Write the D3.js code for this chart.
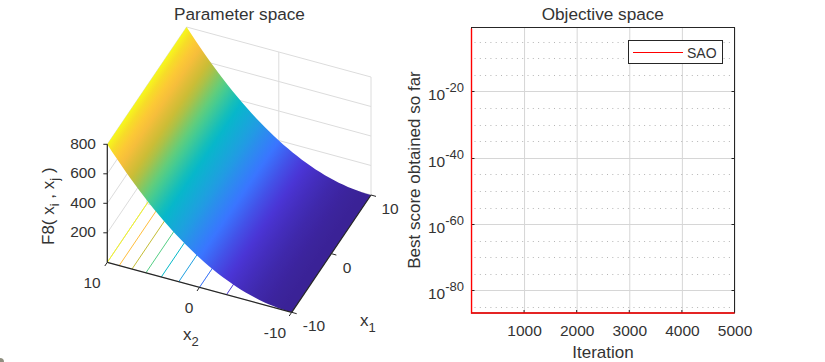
<!DOCTYPE html>
<html><head><meta charset="utf-8">
<script src="https://cdnjs.cloudflare.com/ajax/libs/d3/7.8.5/d3.min.js"></script>
<style>
html,body{margin:0;padding:0;background:#fff}
svg{display:block}
text{font-family:"Liberation Sans",Arial,sans-serif;fill:#333}
</style></head><body>
<svg id="c" width="825" height="362"></svg>
<script>
// ---- data ----
const x2Values = [-10,-9.5,-9,-8.5,-8,-7.5,-7,-6.5,-6,-5.5,-5,-4.5,-4,-3.5,-3,-2.5,-2,-1.5,-1,-0.5,0,0.5,1,1.5,2,2.5,3,3.5,4,4.5,5,5.5,6,6.5,7,7.5,8,8.5,9,9.5,10];
const zProfile = [0,0.5,2,4.5,8,12.5,18,24.5,32,40.5,50,60.5,72,84.5,98,112.5,128,144.5,162,180.5,200,220.5,242,264.5,288,312.5,338,364.5,392,420.5,450,480.5,512,544.5,578,612.5,648,684.5,722,760.5,800];
const contourLevels = [100,200,300,400,500,600,700,800];
const colorLevels = [0,100,200,300,400,500,600,700,760,800];
const colorValues = ["#3a2296","#4a35d6","#3a75ff","#1f9fe0","#05b9c8","#55cf85","#c4bd35","#ffbe3c","#f7dc28","#f6f81c"];
const zTicks = [200,400,600,800];
const zGrid = [0,200,400,600,800];
const x1Ticks = [-10,0,10];
const x2Ticks = [-10,0,10];
const iterations = [1,2,5000];
const bestExp = [-1,-86.8,-86.8];
const iterTicks = [1000,2000,3000,4000,5000];
const logMajorExp = [-20,-40,-60,-80];
const logMinorExp = [-5,-10,-15,-25,-30,-35,-45,-50,-55,-65,-70,-75,-85];

const svg = d3.select("#c");
const ink = "#333", axisInk = "#262626", gridInk = "#dcdcdc";

// ---- left panel: fixed oblique projection built from scales ----
const pxA = d3.scaleLinear([-10,10],[0,79.3]);
const pyA = d3.scaleLinear([-10,10],[0,-117.3]);
const pxB = d3.scaleLinear([-10,10],[0,-184.4]);
const pyB = d3.scaleLinear([-10,10],[0,-50]);
const pyZ = d3.scaleLinear([0,800],[0,-118]);
const P = (a,b,z)=>[291.7+pxA(a)+pxB(b), 312.3+pyA(a)+pyB(b)+pyZ(z)];
const color = d3.scaleLinear(colorLevels,colorValues).interpolate(d3.interpolateRgb);
const xAt = d3.scaleLinear(zProfile,x2Values);
const left = svg.append("g");
const seg=(a,b,st,w)=>left.append("line").attr("x1",a[0]).attr("y1",a[1]).attr("x2",b[0]).attr("y2",b[1]).attr("stroke",st).attr("stroke-width",w||1);

// back walls
zGrid.forEach(z=>{
  seg(P(10,-10,z),P(10,10,z),gridInk);
  seg(P(-10,10,z),P(10,10,z),gridInk);
});
x2Ticks.forEach(b=>seg(P(10,b,0),P(10,b,800),gridInk));
x1Ticks.forEach(a=>seg(P(a,10,0),P(a,10,800),gridInk));
x1Ticks.forEach(a=>seg(P(a,-10,0),P(a,10,0),gridInk));
x2Ticks.forEach(b=>seg(P(-10,b,0),P(10,b,0),gridInk));

// floor contours
contourLevels.forEach(l=>seg(P(-10,xAt(l),0),P(10,xAt(l),0),color(l)));

// surface: one outline, one gradient with a stop per profile point
const defs = svg.append("defs");
const dA = [P(10,0,0)[0]-P(-10,0,0)[0],P(10,0,0)[1]-P(-10,0,0)[1]];
const dLen = Math.hypot(dA[0],dA[1]);
const nrm = [-dA[1]/dLen,dA[0]/dLen];
const edge = x2Values.map((b,i)=>P(-10,b,zProfile[i]));
const far = x2Values.map((b,i)=>P(10,b,zProfile[i]));
const start = edge[edge.length-1];
const along = p=>(p[0]-start[0])*nrm[0]+(p[1]-start[1])*nrm[1];
const span = along(edge[0]);
const grad = defs.append("linearGradient").attr("id","surf").attr("gradientUnits","userSpaceOnUse")
  .attr("x1",start[0]).attr("y1",start[1]).attr("x2",start[0]+nrm[0]*span).attr("y2",start[1]+nrm[1]*span);
x2Values.map((b,i)=>i).reverse().forEach(i=>{
  grad.append("stop").attr("offset",along(edge[i])/span).attr("stop-color",color(zProfile[i]));
});
left.append("path").attr("d","M"+edge.concat(far.slice().reverse()).join("L")+"Z").attr("fill","url(#surf)");

// axes
seg(P(-10,10,0),P(-10,10,800),axisInk,1.2);
seg(P(-10,10,0),P(-10,-10,0),axisInk,1.2);
seg(P(-10,-10,0),P(10,-10,0),axisInk,1.2);
zTicks.forEach(z=>{
  const p=P(-10,10,z); seg(p,[p[0]-4,p[1]],axisInk);
  left.append("text").attr("x",96).attr("y",p[1]+4.5).attr("text-anchor","end").attr("font-size",15.5).text(z);
});
const x2Lab={"10":[92,288],"0":[189,313],"-10":[275,338]};
x2Ticks.forEach(b=>{
  const p=P(-10,b,0); seg(p,[p[0]-2.5,p[1]+3.7],axisInk);
  left.append("text").attr("x",x2Lab[b][0]).attr("y",x2Lab[b][1]).attr("text-anchor","middle").attr("font-size",15.5).text(b);
});
const x1Lab={"-10":[314,331],"0":[347,273],"10":[390,214]};
x1Ticks.forEach(a=>{
  const p=P(a,-10,0); seg(p,[p[0]+5,p[1]+1.4],axisInk);
  left.append("text").attr("x",x1Lab[a][0]).attr("y",x1Lab[a][1]).attr("text-anchor","middle").attr("font-size",15.5).text(a);
});
left.append("text").attr("x",239.5).attr("y",20).attr("text-anchor","middle").attr("font-size",17.2).attr("fill","#1a1a1a").text("Parameter space");
const xl2=left.append("text").attr("x",183).attr("y",340).attr("font-size",17);
xl2.append("tspan").text("x");
xl2.append("tspan").attr("font-size",13).attr("dy",6).text("2");
const xl1=left.append("text").attr("x",360).attr("y",326).attr("font-size",17);
xl1.append("tspan").text("x");
xl1.append("tspan").attr("font-size",13).attr("dy",6).text("1");
const zl=left.append("text").attr("transform","translate(54,245) rotate(-90)").attr("font-size",17);
zl.append("tspan").text("F8( x");
zl.append("tspan").attr("font-size",13).attr("dy",5).text("i");
zl.append("tspan").attr("dy",-5).text(" , x");
zl.append("tspan").attr("font-size",13).attr("dy",5).text("j");
zl.append("tspan").attr("dy",-5).text(" )");
// scrap of another window in the lower-left corner of the screenshot
svg.append("circle").attr("cx",0).attr("cy",362).attr("r",4).attr("fill","#8f8f80");

// ---- right panel ----
const L=471.5,R=734.5,T=27.5,B=313;
const x=d3.scaleLinear([1,5000],[L,R]);
const y=d3.scaleLinear([-86.8,-0.7],[B,T]); // log10 axis
const right=svg.append("g");
const xG=right.append("g").attr("transform",`translate(0,${B})`).call(d3.axisBottom(x).tickValues(iterTicks).tickSize(-(B-T)).tickFormat(d3.format("d")).tickPadding(12));
xG.select(".domain").remove();
xG.selectAll("line").attr("stroke","#d6d6d6");
xG.selectAll("text").attr("font-size",15.5).attr("font-family",null).attr("fill",ink);
right.append("g").selectAll("line").data(logMajorExp).join("line").attr("x1",L).attr("x2",R)
  .attr("y1",d=>Math.round(y(d))+0.5).attr("y2",d=>Math.round(y(d))+0.5).attr("stroke","#d6d6d6");
right.append("g").selectAll("line").data(logMinorExp).join("line").attr("x1",L+3).attr("x2",R-2)
  .attr("y1",d=>Math.round(y(d))+0.5).attr("y2",d=>Math.round(y(d))+0.5).attr("stroke","#b5b5b5").attr("stroke-dasharray","1 4.3");
right.append("rect").attr("x",L).attr("y",T).attr("width",R-L).attr("height",B-T).attr("fill","none").attr("stroke",axisInk);
// inward ticks
right.append("g").selectAll("line").data(logMajorExp.flatMap(d=>[[L,L+3,d],[R-3,R,d]])).join("line")
  .attr("x1",d=>d[0]).attr("x2",d=>d[1]).attr("y1",d=>Math.round(y(d[2]))+0.5).attr("y2",d=>Math.round(y(d[2]))+0.5).attr("stroke",axisInk);
right.append("g").selectAll("line").data(iterTicks).join("line")
  .attr("x1",d=>x(d)).attr("x2",d=>x(d)).attr("y1",B-3).attr("y2",B).attr("stroke",axisInk);
logMajorExp.forEach(d=>{
  const t=right.append("text").attr("x",464).attr("y",y(d)+9).attr("text-anchor","end").attr("font-size",15.5);
  t.append("tspan").text("10");
  t.append("tspan").attr("font-size",13).attr("dy",-8).text(d);
});
const ln=d3.line().x((d,i)=>x(iterations[i])).y(d=>y(d));
right.append("path").attr("d",ln(bestExp)).attr("fill","none").attr("stroke","#f00").attr("stroke-width",1.4);
right.append("text").attr("x",602.8).attr("y",20).attr("text-anchor","middle").attr("font-size",17.2).attr("fill","#1a1a1a").text("Objective space");
right.append("text").attr("x",603).attr("y",358).attr("text-anchor","middle").attr("font-size",17).text("Iteration");
right.append("text").attr("transform","translate(420,170) rotate(-90)").attr("text-anchor","middle").attr("font-size",17).text("Best score obtained so far");
// legend
right.append("rect").attr("x",628.5).attr("y",40.5).attr("width",94).attr("height",23).attr("fill","#fff").attr("stroke",axisInk);
right.append("line").attr("x1",633).attr("x2",683).attr("y1",52.5).attr("y2",52.5).attr("stroke","#f00");
right.append("text").attr("x",687).attr("y",57.5).attr("font-size",14).attr("fill","#1a1a1a").text("SAO");
</script>
</body></html>
